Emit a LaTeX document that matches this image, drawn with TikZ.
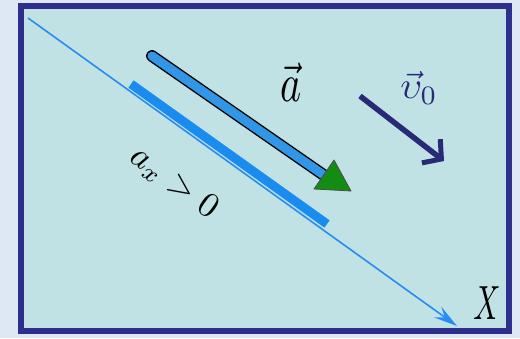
\documentclass[tikz,border=0pt]{standalone}
\usepackage{amsmath,amssymb}
\usepackage{tikz}
\usetikzlibrary{arrows.meta,calc,positioning}
\definecolor{pagecol}{RGB}{221,232,244}
\definecolor{panelcol}{RGB}{192,226,228}
\definecolor{framecol}{RGB}{46,46,140}
\definecolor{axiscol}{RGB}{40,140,245}
\definecolor{barcol}{RGB}{26,140,240}
\definecolor{acccol}{RGB}{50,150,230}
\definecolor{headcol}{RGB}{20,140,20}
\definecolor{velcol}{RGB}{40,42,120}

\begin{document}
\begin{tikzpicture}[x=1pt,y=-1pt,>=Stealth]
\useasboundingbox (0,0) rectangle (520,338);
\fill[pagecol] (0,0) rectangle (520,338);
\draw[framecol,line width=6pt,fill=panelcol] (21,5.5) rectangle (508.5,330.5);
% x axis with the positive part marked
\coordinate (O) at (28,18);
\coordinate (Xend) at (457,326);
\draw[axiscol,line width=1.6pt,-{Stealth[length=24pt,width=13pt,inset=9pt]}] (O) -- (Xend);
\coordinate (B1) at (131,84);
\coordinate (B2) at (327,224);
\draw[barcol,line width=9pt] (B1) -- (B2);
% acceleration
\coordinate (A1) at (152,56);
\coordinate (A2) at (328,178);
\draw[line width=1.4pt,double=acccol,double distance=9pt,line cap=round] (A1) -- (A2);
\filldraw[headcol,draw=black!70,line width=0.8pt,line join=round]
  (334,160) -- (351,191) -- (314,189) -- cycle;
% initial velocity
\coordinate (V1) at (360,96);
\coordinate (V2) at (444,161);
\draw[velcol,line width=5.5pt,-{Straight Barb[length=13pt,width=30pt,line width=5pt]}] (V1) -- (V2);
% labels
\node[xscale=4.0,yscale=5.4,inner sep=0pt] (La) at (291,82) {$\vec a$};
\node[velcol,scale=3.8,inner sep=0pt] (Lv) at (419,88) {$\vec{\upsilon}_0$};
\node[rotate=-35.6,scale=3.5,inner sep=0pt] (Lax) at (174,183) {$a_x>0$};
\node[xscale=3.0,yscale=4.8,inner sep=0pt] (Lx) at (487,303) {$X$};
\end{tikzpicture}
\end{document}
